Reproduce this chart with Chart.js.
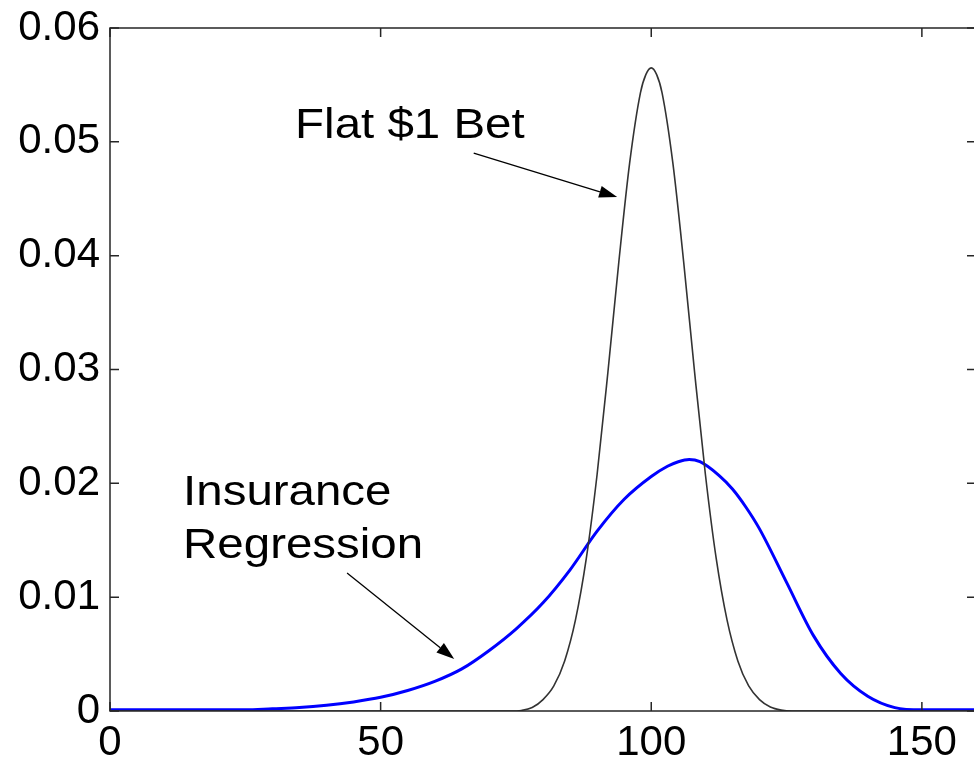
<!DOCTYPE html>
<html>
<head>
<meta charset="utf-8">
<script src="https://cdn.jsdelivr.net/npm/chart.js@4/dist/chart.umd.min.js"></script>
<style>
  html, body { margin: 0; padding: 0; background: #fff; overflow: hidden; }
  #wrap { width: 980px; height: 760px; position: relative; }
</style>
</head>
<body>
<div id="wrap"><canvas id="c"></canvas></div>
<script>
// Final bankroll distribution: flat $1 bet (narrow) vs insurance regression (wide)
const betX = [0, 74, 76, 78, 80, 82, 84, 86, 88, 90, 92, 94, 96, 98, 99, 100,
              101, 102, 104, 106, 108, 110, 112, 114, 116, 118, 120, 122, 124, 126, 160];
const betY = [0, 0, 0.00005, 0.00030, 0.0010, 0.0022, 0.0044, 0.0080, 0.0134,
              0.0208, 0.0298, 0.0394, 0.0481, 0.0543, 0.0559, 0.0565, 0.0559, 0.0543, 0.0481,
              0.0394, 0.0298, 0.0208, 0.0134, 0.0080, 0.0044, 0.0022, 0.0010, 0.00035, 0.00008,
              0, 0];

const insX = [0, 5, 10, 15, 20, 25, 30, 35, 40, 45, 50, 55, 60, 65, 70, 75, 80, 85, 90, 95,
              100, 103, 105, 107, 109, 112.5, 115, 117.5, 120, 125, 130, 135, 140, 145, 150, 155, 160];
const insY = [0.0001, 0.0001, 0.0001, 0.0001, 0.0001, 0.0001, 0.0002, 0.0003, 0.0005, 0.0008,
              0.0012, 0.0018, 0.0026, 0.0037, 0.0053, 0.0072, 0.0095, 0.0124, 0.0158, 0.0186,
              0.0206, 0.0215, 0.0219, 0.0221, 0.0219, 0.0207, 0.0195, 0.0179, 0.0160, 0.0113,
              0.0066, 0.0033, 0.0013, 0.0003, 0.0001, 0.0001, 0.0001];

const xTicks = [0, 50, 100, 150];
const yTicks = [0, 0.01, 0.02, 0.03, 0.04, 0.05, 0.06];

const betLabel = 'Flat $1 Bet';
const insLabel = ['Insurance', 'Regression'];

const FONT = 'Liberation Sans, Arial, sans-serif';
const AXIS = '#262626';
const TICK_LEN = 9;

const toPts = (xs, ys) => xs.map((x, i) => ({ x: x, y: ys[i] }));

// Box frame with inward ticks on all four sides, plus the two callouts
const framePlugin = {
  id: 'frame',
  afterDraw(chart) {
    const { ctx, chartArea: a, scales: { x, y } } = chart;
    ctx.save();
    ctx.strokeStyle = AXIS;
    ctx.lineWidth = 1.5;
    ctx.strokeRect(a.left, a.top, a.right - a.left, a.bottom - a.top);
    ctx.beginPath();
    xTicks.forEach(v => {
      const px = x.getPixelForValue(v);
      ctx.moveTo(px, a.bottom); ctx.lineTo(px, a.bottom - TICK_LEN);
      ctx.moveTo(px, a.top); ctx.lineTo(px, a.top + TICK_LEN);
    });
    yTicks.forEach(v => {
      const py = y.getPixelForValue(v);
      ctx.moveTo(a.left, py); ctx.lineTo(a.left + TICK_LEN, py);
      ctx.moveTo(a.right, py); ctx.lineTo(a.right - TICK_LEN, py);
    });
    ctx.stroke();

    // callout text, slightly widened
    const text = (s, dx, dy) => {
      const px = x.getPixelForValue(dx), py = y.getPixelForValue(dy);
      ctx.save();
      ctx.translate(px, py);
      ctx.scale(1.13, 1);
      ctx.fillStyle = '#000';
      ctx.font = '42px ' + FONT;
      ctx.textAlign = 'left';
      ctx.textBaseline = 'alphabetic';
      ctx.fillText(s, 0, 0);
      ctx.restore();
    };
    const arrow = (x0, y0, x1, y1) => {
      const ax = x.getPixelForValue(x0), ay = y.getPixelForValue(y0);
      const bx = x.getPixelForValue(x1), by = y.getPixelForValue(y1);
      const ang = Math.atan2(by - ay, bx - ax);
      const L = 18, W = 6;
      const hx = bx - L * Math.cos(ang), hy = by - L * Math.sin(ang);
      ctx.strokeStyle = '#000';
      ctx.lineWidth = 1.3;
      ctx.beginPath();
      ctx.moveTo(ax, ay); ctx.lineTo(hx, hy);
      ctx.stroke();
      ctx.fillStyle = '#000';
      ctx.beginPath();
      ctx.moveTo(bx, by);
      ctx.lineTo(hx + W * Math.sin(ang), hy - W * Math.cos(ang));
      ctx.lineTo(hx - W * Math.sin(ang), hy + W * Math.cos(ang));
      ctx.closePath();
      ctx.fill();
    };
    text(betLabel, 34.2, 0.0503);
    arrow(67.2, 0.0490, 93.7, 0.04515);
    text(insLabel[0], 13.5, 0.0181);
    text(insLabel[1], 13.5, 0.01344);
    arrow(43.8, 0.01212, 63.6, 0.00457);
    ctx.restore();
  }
};

new Chart(document.getElementById('c'), {
  type: 'scatter',
  data: {
    datasets: [
      {
        label: betLabel,
        data: toPts(betX, betY),
        showLine: true,
        borderColor: '#333333',
        borderWidth: 1.6,
        pointRadius: 0,
        cubicInterpolationMode: 'monotone',
        fill: false
      },
      {
        label: insLabel.join(' '),
        data: toPts(insX, insY),
        showLine: true,
        borderColor: '#0000ff',
        borderWidth: 3,
        pointRadius: 0,
        cubicInterpolationMode: 'monotone',
        fill: false
      }
    ]
  },
  options: {
    responsive: true,
    maintainAspectRatio: false,
    animation: false,
    devicePixelRatio: 1,
    layout: { padding: { top: 28, right: 4, left: 0, bottom: 0 } },
    plugins: { legend: { display: false }, tooltip: { enabled: false } },
    scales: {
      x: {
        type: 'linear',
        min: 0,
        max: 160,
        grid: { display: false, drawTicks: false },
        border: { display: false },
        afterBuildTicks: s => { s.ticks = xTicks.map(v => ({ value: v })); },
        afterFit: s => { s.height = 49; s.paddingLeft = 0; s.paddingRight = 0; },
        ticks: {
          padding: 7,
          maxRotation: 0,
          color: '#000',
          font: { family: FONT, size: 42 },
          callback: v => String(v)
        }
      },
      y: {
        type: 'linear',
        min: 0,
        max: 0.06,
        grid: { display: false, drawTicks: false },
        border: { display: false },
        afterBuildTicks: s => { s.ticks = yTicks.map(v => ({ value: v })); },
        afterFit: s => { s.width = 110; s.paddingTop = 0; s.paddingBottom = 0; },
        ticks: {
          padding: 10,
          color: '#000',
          font: { family: FONT, size: 42 },
          callback: v => (v === 0 ? '0' : v.toFixed(2))
        }
      }
    }
  },
  plugins: [framePlugin]
});
</script>
</body>
</html>
